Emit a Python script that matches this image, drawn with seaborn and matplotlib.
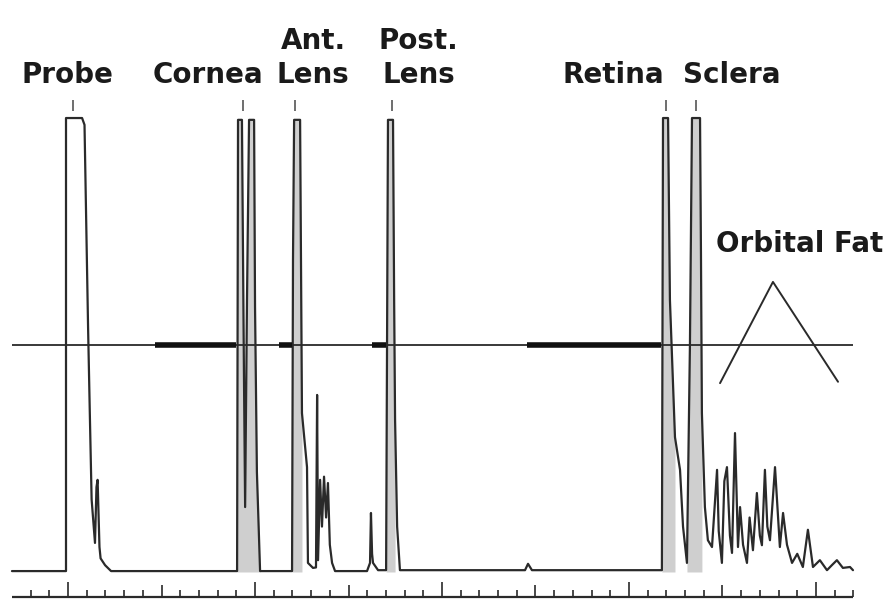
import numpy as np
import pandas as pd
import seaborn as sns
import matplotlib.pyplot as plt

# A-scan echo trace, depth in mm (scale ticks = 1 mm), amplitude in % of full scale
depth = [-3.0, -0.11, -0.11, 0.75, 0.88, 0.98, 1.07, 1.16, 1.26, 1.44, 1.52, 1.58, 1.62, 1.68, 1.74, 1.98, 2.30,
         9.04, 9.09, 9.30, 9.41, 9.47, 9.57, 9.68, 9.95, 10.00, 10.10, 10.27,
         11.98, 12.03, 12.09, 12.41, 12.51, 12.78, 12.83, 13.10, 13.26, 13.32, 13.37, 13.48, 13.58, 13.69,
         13.80, 13.90, 14.00, 14.12, 14.28,
         15.99, 16.15, 16.20, 16.26, 16.31, 16.58, 17.01, 17.11, 17.38, 17.44, 17.49, 17.60, 17.75,
         24.44, 24.60, 24.81, 31.76, 31.82, 32.09, 32.19, 32.46, 32.73, 32.89, 33.10, 33.26, 33.37, 33.80,
         33.85, 33.90, 34.06, 34.22, 34.44, 34.71, 34.80, 34.97, 35.10, 35.24, 35.40, 35.51, 35.67, 35.83,
         35.94, 36.10, 36.31, 36.45, 36.63, 36.84, 37.00, 37.11, 37.27, 37.40, 37.54, 37.81, 38.07, 38.24,
         38.45, 38.72, 39.00, 39.30, 39.57, 39.84, 40.21, 40.59, 40.85, 41.12, 41.44, 41.82, 41.98]
amplitude = [0.2, 0.2, 100, 100, 98.5, 75, 54, 35.7, 16, 6.4, 18.7, 20.3, 14.3, 5.5, 3.0, 1.5, 0.2,
             0.2, 99.6, 99.6, 42.3, 14.3, 59.9, 99.6, 99.6, 58.4, 22, 0.2,
             0.2, 68.7, 99.6, 99.6, 35.0, 23.1, 2.0, 0.9, 1.0, 39.0, 2.6, 20.3, 10, 21,
             12, 19.6, 6, 2.0, 0.2,
             0.2, 2, 13.0, 4, 2.0, 0.4, 0.4, 99.6, 99.6, 60, 33.5, 10, 0.4,
             0.4, 1.8, 0.4, 0.4, 100, 100, 59.9, 29.7, 22.5, 10, 2.0, 50, 100, 100,
             70, 35, 14.3, 7.0, 5.5, 22.5, 9, 2.0, 20, 23.1, 8, 4.2, 30.6, 5.5,
             14.3, 6, 2.0, 12, 4.8, 17.4, 8, 5.9, 22.5, 10, 7.0, 23.1, 5.5, 13.0,
             6, 2.0, 4, 1.1, 9.3, 1.1, 2.6, 0.4, 1.5, 2.6, 0.9, 1.1, 0.4]

# saturated echoes drawn with a grey interior
shade_start = [9.04, 11.98, 17.01, 31.76, 33.10]
shade_end = [10.27, 12.51, 17.49, 32.46, 33.90]

# reject/threshold line and the gated (bold) stretches on it
threshold = 50
gate_start = [4.65, 11.28, 16.26, 24.55]
gate_end = [8.98, 11.98, 17.01, 31.71]

# echo labels
labels = ["Probe", "Cornea", "Ant.\nLens", "Post.\nLens", "Retina", "Sclera"]
label_pos = [-0.05, 7.49, 13.1, 18.75, 29.14, 35.51]
marker_pos = [0.27, 9.36, 12.14, 17.33, 31.98, 33.58]

# orbital fat sketch (triangle)
tri_x = [34.87, 37.70, 41.18]
tri_y = [41.6, 63.9, 41.9]

ticks = np.arange(-2, 43)

sns.set_style("white")
plt.rcParams['font.family'] = ['DejaVu Sans']

fig = plt.figure(figsize=(8.9, 6), dpi=100)
ax = fig.add_axes([0, 0, 1, 1])

df = pd.DataFrame({"depth": depth, "amplitude": amplitude})
d = df["depth"].to_numpy()
for s0, s1 in zip(shade_start, shade_end):
    ax.fill_between(d, 0, df["amplitude"], where=(d >= s0) & (d <= s1),
                    color="#a8a8a8", alpha=0.55, lw=0)

sns.lineplot(data=df, x="depth", y="amplitude", sort=False, estimator=None,
             color="#2a2a2a", lw=1.6, ax=ax)

ax.hlines(threshold, -3.0, 42.0, color="#2a2a2a", lw=1.3)
ax.hlines([threshold] * len(gate_start), gate_start, gate_end, color="#111111", lw=4)

ax.plot(tri_x, tri_y, color="#2a2a2a", lw=1.4)

# echo markers and labels
for lab, lx, mx in zip(labels, label_pos, marker_pos):
    ax.vlines(mx, 101.5, 104, color="#555555", lw=1.2)
    ax.text(lx, 107.8, lab, ha="center", va="baseline", fontsize=20,
            fontweight="bold", color="#1a1a1a", linespacing=1.25)
ax.text(39.14, 70.5, "Orbital Fat", ha="center", va="baseline", fontsize=20,
        fontweight="bold", color="#1a1a1a")

# depth scale at the bottom
ax.hlines(-5.5, -3.0, 42.0, color="#2a2a2a", lw=1.6)
tick_len = np.where(ticks % 10 == 0, 3.3, np.where(ticks % 5 == 0, 2.6, 1.5))
ax.vlines(ticks, -5.5, -5.5 + tick_len, color="#2a2a2a", lw=1.2)

ax.set_xlim(-3.64, 43.96)
ax.set_ylim(-6.17, 126.0)
ax.axis("off")

fig.savefig("out.png", dpi=100)
